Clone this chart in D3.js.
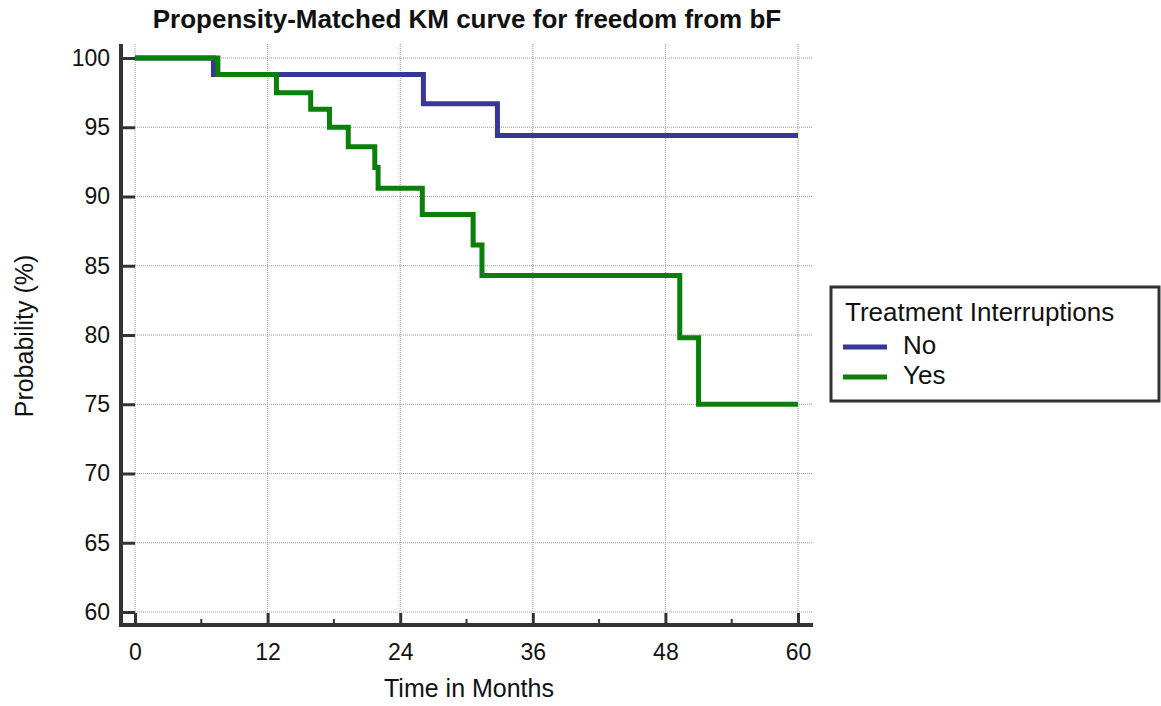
<!DOCTYPE html>
<html>
<head>
<meta charset="utf-8">
<script src="https://cdn.jsdelivr.net/npm/d3@7"></script>
<style>
  body { margin: 0; background: #fff; }
  text { font-family: "Liberation Sans", Arial, sans-serif; fill: #111; }
</style>
</head>
<body>
<svg id="km" width="1161" height="706"></svg>
<script>
// KM steps: time (months) and survival (%)
var noTimes = [0, 7.1, 26.1, 32.8, 60];
var noSurv = [100, 98.8, 96.7, 94.4, 94.4];
var yesTimes = [0, 7.5, 12.8, 15.9, 17.6, 19.3, 21.7, 22.0, 26.0, 30.6, 31.4, 49.3, 51.0, 60];
var yesSurv = [100, 98.8, 97.5, 96.3, 95.0, 93.6, 92.1, 90.6, 88.7, 86.5, 84.3, 79.8, 75.0, 75.0];
var xTicks = [0, 12, 24, 36, 48, 60];
var xMinor = [6, 18, 30, 42, 54];
var yTicks = [60, 65, 70, 75, 80, 85, 90, 95, 100];
var groups = ["No", "Yes"];
var colors = ["#373699", "#0a800a"];

var svg = d3.select("#km");

var xScale = d3.scaleLinear().domain([0, 60]).range([135, 798]);
var yScale = d3.scaleLinear().domain([60, 100]).range([612, 58]);

// grid
var grid = svg.append("g").attr("class", "grid");
grid.selectAll("line.v").data(xTicks).enter().append("line")
  .attr("x1", d => xScale(d)).attr("x2", d => xScale(d))
  .attr("y1", 44).attr("y2", 612)
  .attr("stroke", "#999").attr("stroke-width", 1).attr("stroke-dasharray", "1,1");
grid.selectAll("line.h").data(yTicks).enter().append("line")
  .attr("x1", 135).attr("x2", 812)
  .attr("y1", d => yScale(d)).attr("y2", d => yScale(d))
  .attr("stroke", "#999").attr("stroke-width", 1).attr("stroke-dasharray", "1,1");

// axes
var yAxis = d3.axisLeft(yScale).tickValues(yTicks).tickSize(-14).tickPadding(11);
var yG = svg.append("g").attr("transform", "translate(121,0)").call(yAxis);
yG.select(".domain").remove();
yG.selectAll(".tick line").attr("stroke", "#333").attr("stroke-width", 3);
yG.selectAll(".tick text").style("font-size", "23px").attr("fill", "#111");
yG.append("line").attr("x1", 0).attr("x2", 0).attr("y1", 44).attr("y2", 627)
  .attr("stroke", "#333").attr("stroke-width", 4);

var xAxis = d3.axisBottom(xScale).tickValues(xTicks).tickSize(-12).tickPadding(19);
var xG = svg.append("g").attr("transform", "translate(0,625)").call(xAxis);
xG.select(".domain").remove();
xG.selectAll(".tick line").attr("stroke", "#333").attr("stroke-width", 3);
xG.selectAll(".tick text").style("font-size", "23px").attr("fill", "#111");
xG.selectAll("line.minor").data(xMinor).enter().append("line")
  .attr("x1", d => xScale(d)).attr("x2", d => xScale(d))
  .attr("y1", 0).attr("y2", -6)
  .attr("stroke", "#333").attr("stroke-width", 2);
xG.append("line").attr("x1", 119).attr("x2", 813).attr("y1", 0).attr("y2", 0)
  .attr("stroke", "#333").attr("stroke-width", 4);

// curves
var line = d3.line()
  .x(d => xScale(d[0]))
  .y(d => yScale(d[1]))
  .curve(d3.curveStepAfter);

var series = [d3.zip(noTimes, noSurv), d3.zip(yesTimes, yesSurv)];
svg.selectAll("path.km").data(series).enter().append("path")
  .attr("class", "km")
  .attr("d", line)
  .attr("fill", "none")
  .attr("stroke", (d, i) => colors[i])
  .attr("stroke-width", 5);

// titles
svg.append("text").attr("x", 467).attr("y", 28).attr("text-anchor", "middle")
  .style("font-size", "26px").style("font-weight", "bold")
  .text("Propensity-Matched KM curve for freedom from bF");
svg.append("text").attr("x", 469).attr("y", 697).attr("text-anchor", "middle")
  .style("font-size", "25px").text("Time in Months");
svg.append("text").attr("transform", "translate(33,336) rotate(-90)")
  .attr("text-anchor", "middle").style("font-size", "25px").text("Probability (%)");

// legend
var leg = svg.append("g");
leg.append("rect").attr("x", 831).attr("y", 287).attr("width", 328).attr("height", 114)
  .attr("fill", "#fff").attr("stroke", "#333").attr("stroke-width", 3);
leg.append("text").attr("x", 845).attr("y", 321).style("font-size", "26px")
  .text("Treatment Interruptions");
var items = leg.selectAll("g.item").data(groups).enter().append("g")
  .attr("transform", (d, i) => "translate(0," + (347 + i * 30) + ")");
items.append("line").attr("x1", 843).attr("x2", 887).attr("y1", 0).attr("y2", 0)
  .attr("stroke", (d, i) => colors[i]).attr("stroke-width", 5);
items.append("text").attr("x", 903).attr("y", 7).style("font-size", "26px").text(d => d);
</script>
</body>
</html>
